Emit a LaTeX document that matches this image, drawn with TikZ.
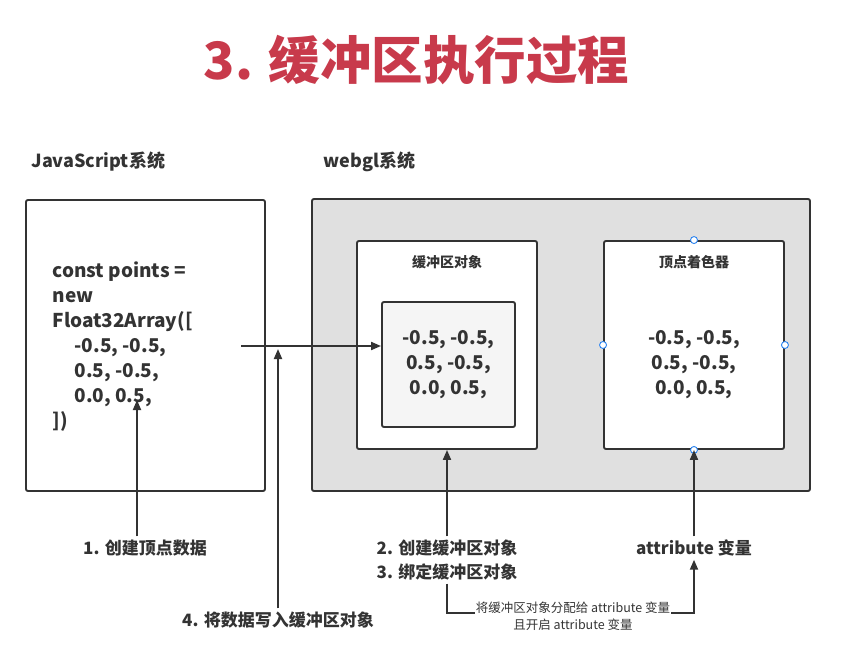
\documentclass[tikz,border=0pt]{standalone}
\usepackage{fontspec}
\setmainfont{Noto Sans CJK SC}
\usepackage{tikz}
\usetikzlibrary{arrows.meta,positioning}

\definecolor{titlered}{RGB}{200,58,75}
\definecolor{ink}{RGB}{51,51,51}
\definecolor{panelgray}{RGB}{224,224,224}
\definecolor{innergray}{RGB}{245,245,245}
\definecolor{handleblue}{RGB}{40,130,240}

\begin{document}
\begin{tikzpicture}[
    x=1pt, y=-1pt,
    box/.style={draw=ink, line width=1.9pt, rounded corners=2pt, inner sep=0pt},
    head/.style={font=\bfseries\fontsize{18}{22}\selectfont, text=ink},
    code/.style={font=\bfseries\fontsize{19}{25}\selectfont, text=ink, align=center},
    steplabel/.style={font=\bfseries\fontsize{17}{24}\selectfont, text=ink, align=center},
    arr/.style={draw=ink, line width=1.9pt, -{Triangle[length=10pt, width=8pt]}},
    handle/.style={circle, draw=handleblue, fill=white, line width=0.9pt, minimum size=7pt, inner sep=0pt}
]
\useasboundingbox (0,0) rectangle (863,654);

\node[font=\bfseries\fontsize{51.5}{56}\selectfont, text=titlered] (title) at (416.5,60) {3. 缓冲区执行过程};

\node[head, anchor=west] (jshead) at (28,162) {JavaScript系统};
\node[head, anchor=west] (glhead) at (320,162) {webgl系统};

% JavaScript side
\node[box, minimum width=239pt, minimum height=291pt] (jsbox) at (145.5,345.5) {};
\node[code, align=left, anchor=west] (jscode) at (49,347) {const points =\\new\\Float32Array([\\
    \hspace*{22pt}-0.5, -0.5,\\\hspace*{22pt}0.5, -0.5,\\\hspace*{22pt}0.0, 0.5,\\])};

% webgl side
\node[box, fill=panelgray, minimum width=498pt, minimum height=292pt] (glbox) at (561,345) {};
\node[box, fill=white, minimum width=180pt, minimum height=208pt] (bufbox) at (447,345) {};
\node[font=\bfseries\fontsize{14}{16}\selectfont, text=ink] (buftitle) at (447,262) {缓冲区对象};
\node[box, fill=innergray, minimum width=133pt, minimum height=125pt] (bufdata) at (448.5,364.5)
    [code] {-0.5, -0.5,\\0.5, -0.5,\\0.0, 0.5,};

\node[box, fill=white, minimum width=180pt, minimum height=208pt] (shader) at (694,345) {};
\node[font=\bfseries\fontsize{14}{16}\selectfont, text=ink] (shtitle) at (694,262) {顶点着色器};
\node[code] (shdata) at (694,365) {-0.5, -0.5,\\0.5, -0.5,\\0.0, 0.5,};
\foreach \a in {north,west,east,south}
    \node[handle] at (shader.\a) {};

% steps
\node[steplabel] (s1) at (145,548) {1. 创建顶点数据};
\node[steplabel] (s4) at (278,620) {4. 将数据写入缓冲区对象};
\node[steplabel] (s23) at (447,560) {2. 创建缓冲区对象\\3. 绑定缓冲区对象};
\node[steplabel] (attr) at (694,548) {attribute 变量};
\node[font=\fontsize{12.5}{17}\selectfont, text=ink, align=center, inner sep=1pt] (note) at (573,616)
    {将缓冲区对象分配给 attribute 变量\\且开启 attribute 变量};

\coordinate (src) at (241,346);
\coordinate (p1) at (137,400);
\coordinate (p4) at (278,349);

\draw[arr] (src) -- (src -| bufdata.west);
\draw[arr] (s1.north -| p1) -- (p1);
\draw[arr] (s4.north) -- (p4);
\draw[arr] (s23.north) -- (bufbox.south);
\draw[arr] (attr.north) -- (shader.south);
\draw[draw=ink, line width=1.9pt] (s23.south) |- ([yshift=3pt]note.west);
\draw[arr] ([yshift=3pt]note.east) -| (attr.south);

\end{tikzpicture}
\end{document}
